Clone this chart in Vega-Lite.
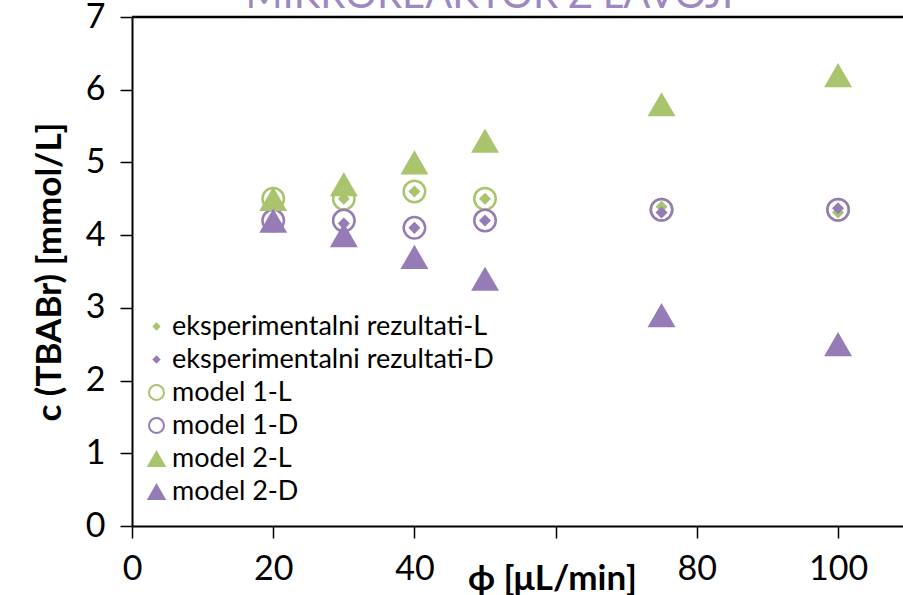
{
  "$schema": "https://vega.github.io/schema/vega-lite/v6.json",
  "width": 771,
  "height": 509,
  "autosize": {"type": "none"},
  "padding": {"left": 132, "top": 17, "right": 0, "bottom": 69},
  "config": {
    "view": {"stroke": null},
    "axis": {"grid": false, "domainColor": "black", "domainWidth": 2, "tickColor": "black", "tickWidth": 1.5, "tickSize": 12, "labelFont": "Lato", "labelFontSize": 34, "labelColor": "black", "titleFont": "Lato", "titleFontSize": 35, "titleFontWeight": "bold", "titleColor": "black", "labelFlush": false, "labelOverlap": false}
  },
  "encoding": {
    "y": {"field": "y", "type": "quantitative", "scale": {"domain": [0, 7], "nice": false, "zero": false}, "axis": {"values": [0, 1, 2, 3, 4, 5, 6, 7], "title": "c (TBABr) [mmol/L]", "labelPadding": 15, "titlePadding": 18}}
  },
  "layer": [
    {
      "data": {"values": [{"y": 7}]},
      "mark": {"type": "rule", "color": "black", "strokeWidth": 2.5},
      "encoding": {}
    },
    {
      "data": {"values": [{"t": "MIKROREAKTOR Z LAVOJI", "x": 50.6, "y": 7.124}]},
      "mark": {"type": "text", "font": "Lato", "fontSize": 40, "color": "#9d88c2", "align": "center", "baseline": "alphabetic"},
      "encoding": {
        "x": {"field": "x", "type": "quantitative", "scale": {"domain": [0, 109.2], "nice": false, "zero": false}, "axis": {"values": [0, 20, 40, 60, 80, 100], "labelExpr": "datum.value == 60 ? '' : datum.label", "title": "ϕ [μL/min]", "titleX": 420, "titleY": 52, "titleBaseline": "middle", "labelPadding": 14}},
        "text": {"field": "t"}
      }
    },
    {
      "data": {"values": [
        {"s": "eksperimentalni rezultati-L", "x": 20, "y": 4.5},
        {"s": "eksperimentalni rezultati-L", "x": 30, "y": 4.5},
        {"s": "eksperimentalni rezultati-L", "x": 40, "y": 4.6},
        {"s": "eksperimentalni rezultati-L", "x": 50, "y": 4.5},
        {"s": "eksperimentalni rezultati-L", "x": 75, "y": 4.39},
        {"s": "eksperimentalni rezultati-L", "x": 100, "y": 4.31},
        {"s": "eksperimentalni rezultati-D", "x": 20, "y": 4.2},
        {"s": "eksperimentalni rezultati-D", "x": 30, "y": 4.16},
        {"s": "eksperimentalni rezultati-D", "x": 40, "y": 4.1},
        {"s": "eksperimentalni rezultati-D", "x": 50, "y": 4.2},
        {"s": "eksperimentalni rezultati-D", "x": 75, "y": 4.31},
        {"s": "eksperimentalni rezultati-D", "x": 100, "y": 4.37},
        {"s": "model 1-L", "x": 20, "y": 4.5},
        {"s": "model 1-L", "x": 30, "y": 4.5},
        {"s": "model 1-L", "x": 40, "y": 4.6},
        {"s": "model 1-L", "x": 50, "y": 4.5},
        {"s": "model 1-L", "x": 75, "y": 4.35},
        {"s": "model 1-L", "x": 100, "y": 4.35},
        {"s": "model 1-D", "x": 20, "y": 4.2},
        {"s": "model 1-D", "x": 30, "y": 4.2},
        {"s": "model 1-D", "x": 40, "y": 4.1},
        {"s": "model 1-D", "x": 50, "y": 4.2},
        {"s": "model 1-D", "x": 75, "y": 4.35},
        {"s": "model 1-D", "x": 100, "y": 4.35},
        {"s": "model 2-L", "x": 20, "y": 4.5},
        {"s": "model 2-L", "x": 30, "y": 4.7},
        {"s": "model 2-L", "x": 40, "y": 5.0},
        {"s": "model 2-L", "x": 50, "y": 5.3},
        {"s": "model 2-L", "x": 75, "y": 5.8},
        {"s": "model 2-L", "x": 100, "y": 6.2},
        {"s": "model 2-D", "x": 20, "y": 4.2},
        {"s": "model 2-D", "x": 30, "y": 4.0},
        {"s": "model 2-D", "x": 40, "y": 3.7},
        {"s": "model 2-D", "x": 50, "y": 3.4},
        {"s": "model 2-D", "x": 75, "y": 2.9},
        {"s": "model 2-D", "x": 100, "y": 2.5}
      ]},
      "mark": {"type": "point", "filled": true, "opacity": 1, "strokeWidth": 2.5, "size": 462},
      "encoding": {
        "x": {"field": "x", "type": "quantitative", "scale": {"domain": [0, 109.2], "nice": false, "zero": false}, "axis": {"values": [0, 20, 40, 60, 80, 100], "labelExpr": "datum.value == 60 ? '' : datum.label", "title": "ϕ [μL/min]", "titleX": 420, "titleY": 52, "titleBaseline": "middle", "labelPadding": 14}},
        "shape": {"field": "s", "type": "nominal", "sort": null,
          "scale": {"domain": ["eksperimentalni rezultati-L", "eksperimentalni rezultati-D", "model 1-L", "model 1-D", "model 2-L", "model 2-D"], "range": ["M -0.56 0 L 0 -0.56 L 0.56 0 L 0 0.56 Z", "M -0.56 0 L 0 -0.56 L 0.56 0 L 0 0.56 Z", "circle", "circle", "M 0 -1.126 L 1.3 1.126 L -1.3 1.126 Z", "M 0 -1.126 L 1.3 1.126 L -1.3 1.126 Z"]},
          "legend": {"orient": "none", "legendX": 11, "legendY": 296, "title": null, "padding": 0, "labelFont": "Lato", "labelFontSize": 27, "labelColor": "black", "labelLimit": 500, "rowPadding": 5, "labelOffset": 2, "symbolSize": 225, "symbolStrokeWidth": 2}},
        "fill": {"field": "s", "type": "nominal",
          "scale": {"domain": ["eksperimentalni rezultati-L", "eksperimentalni rezultati-D", "model 1-L", "model 1-D", "model 2-L", "model 2-D"], "range": ["#a9c46c", "#967cb6", "transparent", "transparent", "#a9c46c", "#967cb6"]}},
        "stroke": {"field": "s", "type": "nominal",
          "scale": {"domain": ["eksperimentalni rezultati-L", "eksperimentalni rezultati-D", "model 1-L", "model 1-D", "model 2-L", "model 2-D"], "range": ["transparent", "transparent", "#a9c46c", "#967cb6", "transparent", "transparent"]}}
      }
    }
  ]
}
